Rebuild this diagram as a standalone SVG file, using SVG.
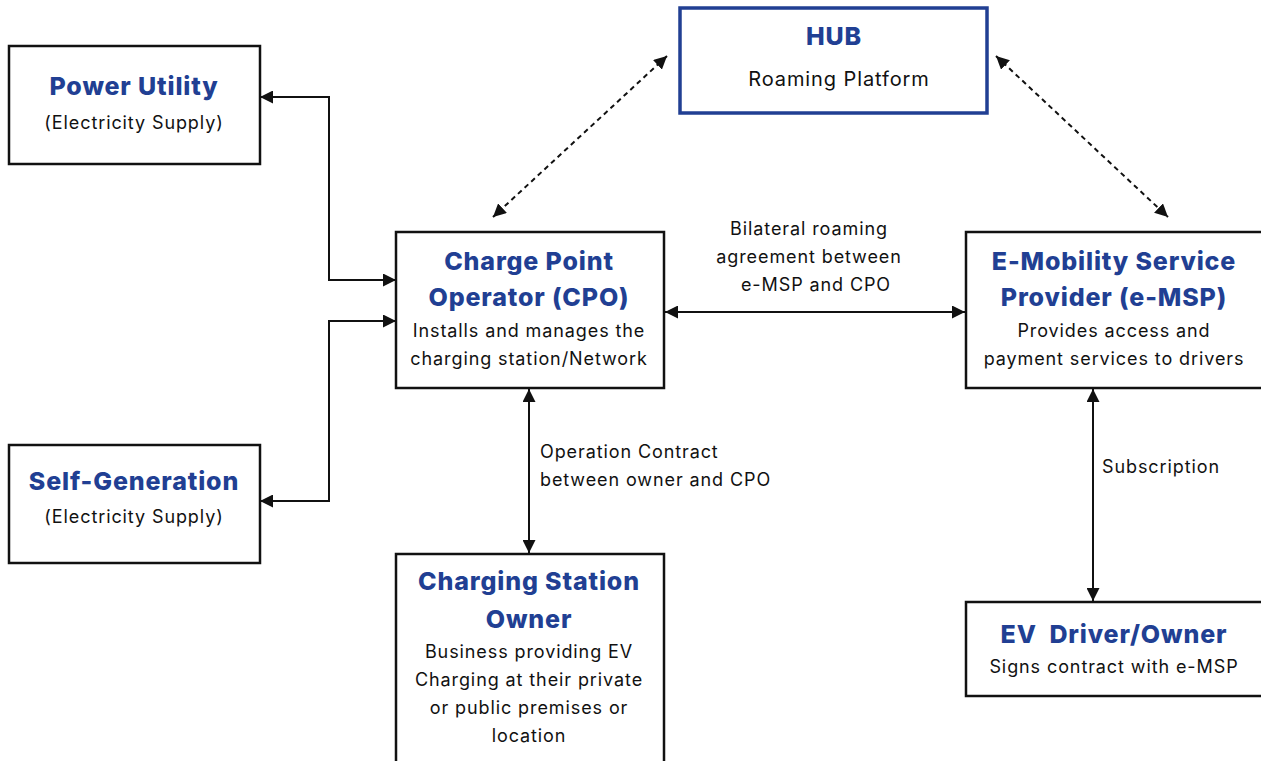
<svg xmlns="http://www.w3.org/2000/svg" width="1261" height="761" viewBox="0 0 1261 761">
<defs>
<style>
.box{fill:#fff;stroke:#111;stroke-width:2.5}
.hub{fill:#fff;stroke:#213f93;stroke-width:3.5}
.h{font-family:Inter,"Open Sans",sans-serif;font-weight:800;font-size:25px;letter-spacing:0.85px;fill:#213f93;text-anchor:middle}
.t{font-family:Inter,"Open Sans",sans-serif;font-size:18px;letter-spacing:0.9px;fill:#111;text-anchor:middle}
.l{font-family:Inter,"Open Sans",sans-serif;font-size:18px;letter-spacing:0.9px;fill:#111}
.c{fill:none;stroke:#111;stroke-width:2}
.d{fill:none;stroke:#111;stroke-width:2;stroke-dasharray:5 4}
</style>
<marker id="ah" viewBox="0 0 10 10" refX="10" refY="5" markerWidth="6.5" markerHeight="6.5" markerUnits="strokeWidth" orient="auto-start-reverse">
<path d="M0,0 L10,5 L0,10 Z" fill="#111"/>
</marker>
</defs>
<rect width="1261" height="761" fill="#fff"/>

<g id="connectors">
<polyline class="c" points="396,280 329,280 329,97 260,97" marker-start="url(#ah)" marker-end="url(#ah)"/>
<polyline class="c" points="396,321 329,321 329,501 260,501" marker-start="url(#ah)" marker-end="url(#ah)"/>
<line class="c" x1="665" y1="312" x2="965" y2="312" marker-start="url(#ah)" marker-end="url(#ah)"/>
<line class="c" x1="529" y1="389" x2="529" y2="553" marker-start="url(#ah)" marker-end="url(#ah)"/>
<line class="c" x1="1093" y1="389" x2="1093" y2="601" marker-start="url(#ah)" marker-end="url(#ah)"/>
<line class="d" x1="667" y1="56" x2="493" y2="217" marker-start="url(#ah)" marker-end="url(#ah)"/>
<line class="d" x1="996" y1="56" x2="1168" y2="217" marker-start="url(#ah)" marker-end="url(#ah)"/>
<text class="t" x="809" y="235">Bilateral roaming</text>
<text class="t" x="809" y="263">agreement between</text>
<text class="t" x="816" y="291">e-MSP and CPO</text>
<text class="l" x="540" y="458">Operation Contract</text>
<text class="l" x="540" y="486">between owner and CPO</text>
<text class="l" x="1102" y="473">Subscription</text>
</g>

<g id="power-utility">
<rect class="box" x="9" y="46" width="251" height="118"/>
<text class="h" x="134" y="95">Power Utility</text>
<text class="t" x="134" y="129">(Electricity Supply)</text>
</g>

<g id="self-generation">
<rect class="box" x="9" y="445" width="251" height="118"/>
<text class="h" x="134" y="490">Self-Generation</text>
<text class="t" x="134" y="523">(Electricity Supply)</text>
</g>

<g id="hub">
<rect class="hub" x="680" y="8" width="307" height="105"/>
<text class="h" x="834" y="45">HUB</text>
<text class="t" x="839" y="86" style="font-size:20px">Roaming Platform</text>
</g>

<g id="cpo">
<rect class="box" x="396" y="232" width="268" height="156"/>
<text class="h" x="529" y="270">Charge Point</text>
<text class="h" x="529" y="306">Operator (CPO)</text>
<text class="t" x="529" y="337">Installs and manages the</text>
<text class="t" x="529" y="365">charging station/Network</text>
</g>

<g id="emsp">
<rect class="box" x="966" y="232" width="298" height="156"/>
<text class="h" x="1114" y="270">E-Mobility Service</text>
<text class="h" x="1114" y="306">Provider (e-MSP)</text>
<text class="t" x="1114" y="337">Provides access and</text>
<text class="t" x="1114" y="365">payment services to drivers</text>
</g>

<g id="owner">
<rect class="box" x="396" y="554" width="268" height="210"/>
<text class="h" x="529" y="590">Charging Station</text>
<text class="h" x="529" y="628">Owner</text>
<text class="t" x="529" y="658">Business providing EV</text>
<text class="t" x="529" y="686">Charging at their private</text>
<text class="t" x="529" y="714">or public premises or</text>
<text class="t" x="529" y="742">location</text>
</g>

<g id="ev-driver">
<rect class="box" x="966" y="602" width="298" height="94"/>
<text class="h" x="1114" y="643" xml:space="preserve">EV  Driver/Owner</text>
<text class="t" x="1114" y="673">Signs contract with e-MSP</text>
</g>
</svg>
